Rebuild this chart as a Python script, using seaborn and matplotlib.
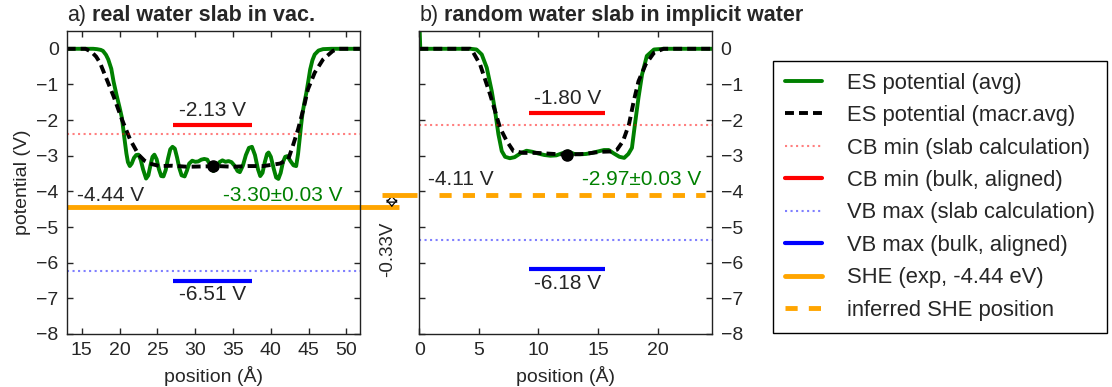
import matplotlib
matplotlib.use("Agg")
import matplotlib.pyplot as plt
from matplotlib.lines import Line2D
from matplotlib.offsetbox import TextArea, HPacker, AnchoredOffsetbox
import seaborn as sns

# ---- panel a: real water slab in vacuum ----
pos_a_avg = [13.0, 16.5, 17.0, 17.5, 17.8, 18.2, 18.5, 18.9, 19.2, 19.6, 20.0, 20.3,
             20.6, 20.9, 21.1, 21.35, 21.6, 21.9, 22.2, 22.5, 22.8, 23.1, 23.5, 23.8,
             24.1, 24.35, 24.6, 24.9, 25.2, 25.5, 25.8, 26.1, 26.4, 26.7, 27.0, 27.3,
             27.6, 27.9, 28.2, 28.6, 28.9, 29.2, 29.6, 30.0, 30.4, 30.8, 31.2, 31.6,
             32.0, 32.4, 32.8, 33.2, 33.6, 34.0, 34.4, 34.8, 35.2, 35.6, 35.9, 36.3,
             36.7, 37.1, 37.5, 37.9, 38.3, 38.6, 38.9, 39.2, 39.5, 39.7, 40.0, 40.4,
             40.7, 41.0, 41.3, 41.6, 41.9, 42.2, 42.6, 43.0, 43.35, 43.6, 43.8, 44.0,
             44.2, 44.45, 44.7, 45.0, 45.2, 45.5, 45.8, 46.3, 46.9, 48.0, 51.8]
pot_a_avg = [0.00, 0.00, -0.01, -0.03, -0.06, -0.17, -0.30, -0.56, -0.92, -1.30, -1.65, -1.93,
             -2.45, -2.94, -3.18, -3.29, -3.22, -3.06, -2.98, -2.97, -3.12, -3.38, -3.64, -3.55,
             -3.25, -3.03, -2.97, -3.10, -3.38, -3.57, -3.58, -3.40, -3.08, -2.82, -2.75, -2.80,
             -3.05, -3.35, -3.55, -3.58, -3.42, -3.22, -3.14, -3.17, -3.16, -3.11, -3.09, -3.11,
             -3.28, -3.43, -3.35, -3.18, -3.13, -3.17, -3.15, -3.18, -3.28, -3.43, -3.46, -3.28,
             -2.98, -2.78, -2.75, -2.98, -3.38, -3.57, -3.48, -3.18, -2.95, -2.91, -3.03, -3.38,
             -3.61, -3.65, -3.48, -3.18, -3.03, -3.01, -3.15, -3.27, -3.29, -2.95, -2.55, -2.15,
             -1.79, -1.50, -1.23, -0.85, -0.58, -0.32, -0.16, -0.05, -0.01, 0.00, 0.00]
pos_a_mac = [13.0, 15.5, 16.3, 16.9, 17.4, 18.3, 19.2, 20.3, 21.4, 22.5, 23.3, 24.0,
             25.3, 27.0, 29.0, 31.0, 33.0, 35.0, 37.0, 39.0, 41.2, 42.3, 42.9, 43.6,
             44.3, 44.9, 45.8, 46.9, 48.2, 49.0, 51.8]
pot_a_mac = [0.00, 0.00, -0.09, -0.22, -0.39, -0.86, -1.33, -1.98, -2.55, -2.97, -3.14, -3.22,
             -3.29, -3.28, -3.31, -3.30, -3.29, -3.31, -3.29, -3.29, -3.22, -3.10, -2.73, -2.26,
             -1.70, -1.14, -0.67, -0.30, -0.06, 0.00, 0.00]
cb_slab_a, cb_bulk_a = -2.40, -2.13
vb_slab_a, vb_bulk_a = -6.24, -6.51
bulk_span_a = [27.1, 37.5]
avg_point_a = (32.4, -3.30)
she_exp = -4.44

# ---- panel b: random water slab in implicit water ----
pos_b_avg = [0.0, 0.08, 4.3, 4.8, 5.24, 5.66, 6.08, 6.36, 6.64, 6.92, 7.2, 7.6,
             8.0, 8.5, 9.0, 9.5, 10.0, 10.5, 11.0, 11.5, 12.0, 12.5, 13.0, 13.5,
             14.0, 14.5, 15.0, 15.5, 15.9, 16.3, 16.8, 17.2, 17.55, 17.85, 18.1, 18.4,
             18.7, 19.1, 19.7, 20.5, 24.6]
pot_b_avg = [0.8, 0.0, 0.0, -0.02, -0.16, -0.53, -1.19, -1.75, -2.40, -2.87, -3.03, -3.07,
             -3.04, -2.93, -2.86, -2.89, -2.94, -2.98, -3.00, -2.99, -2.93, -2.88, -2.95, -2.96,
             -2.95, -2.92, -2.88, -2.84, -2.84, -2.93, -3.03, -3.06, -2.95, -2.78, -2.12, -1.37,
             -0.72, -0.20, -0.02, 0.00, 0.00]
pos_b_mac = [0.0, 4.26, 4.54, 5.1, 5.52, 5.94, 6.36, 6.78, 7.34, 7.9, 8.74, 9.87,
             11.3, 12.4, 13.8, 15.2, 16.1, 16.6, 17.1, 17.6, 18.0, 18.4, 19.0, 19.7,
             20.5, 24.6]
pot_b_mac = [0.00, 0.00, -0.11, -0.44, -0.86, -1.28, -1.75, -2.22, -2.59, -2.87, -2.92, -2.92,
             -2.95, -2.97, -2.95, -2.89, -2.88, -2.83, -2.59, -2.12, -1.47, -0.91, -0.44, -0.11,
             0.00, 0.00]
cb_slab_b, cb_bulk_b = -2.15, -1.80
vb_slab_b, vb_bulk_b = -5.36, -6.18
bulk_span_b = [9.24, 15.6]
avg_point_b = (12.4, -2.97)
she_inferred = -4.11
she_shift = "-0.33V"

sns.set_theme(style="ticks")
plt.rcParams["font.family"] = ["Liberation Sans", "DejaVu Sans"]
plt.rcParams["axes.edgecolor"] = "#222222"
plt.rcParams["axes.linewidth"] = 1.0

fig = plt.figure(figsize=(11.12, 3.87), dpi=100)
ax_a = fig.add_axes([0.0603, 0.137, 0.2635, 0.783])
ax_b = fig.add_axes([0.3771, 0.137, 0.2635, 0.783])

mac_dash = (0, (2.3, 1.3))


def draw_panel(ax, pa, va, pm, vm, cb_s, cb_b, vb_s, vb_b, span, dot):
    sns.lineplot(x=pa, y=va, ax=ax, color="green", lw=2.8, sort=False, estimator=None)
    sns.lineplot(x=pm, y=vm, ax=ax, color="black", lw=2.8, linestyle=mac_dash,
                 sort=False, estimator=None)
    ax.axhline(cb_s, color="red", alpha=0.5, lw=1.5, ls=":")
    ax.axhline(vb_s, color="blue", alpha=0.5, lw=1.5, ls=":")
    ax.plot(span, [cb_b, cb_b], color="red", lw=3, solid_capstyle="butt")
    ax.plot(span, [vb_b, vb_b], color="blue", lw=3, solid_capstyle="butt")
    ax.plot([dot[0]], [dot[1]], "o", color="black", ms=8, zorder=5)
    mid = sum(span) / 2
    ax.text(mid, cb_b + 0.24, f"{cb_b:.2f} V", ha="center", va="baseline", fontsize=15)
    ax.text(mid, vb_b - 0.55, f"{vb_b:.2f} V", ha="center", va="baseline", fontsize=15)
    ax.set_ylim(-8, 0.5)
    ax.set_yticks(range(-8, 1))
    ax.set_xlabel("position (Å)", fontsize=14, labelpad=5)
    ax.tick_params(direction="in", length=4, width=1, top=True, right=True,
                   labelsize=14, pad=6)


draw_panel(ax_a, pos_a_avg, pot_a_avg, pos_a_mac, pot_a_mac, cb_slab_a, cb_bulk_a,
           vb_slab_a, vb_bulk_a, bulk_span_a, avg_point_a)
draw_panel(ax_b, pos_b_avg, pot_b_avg, pos_b_mac, pot_b_mac, cb_slab_b, cb_bulk_b,
           vb_slab_b, vb_bulk_b, bulk_span_b, avg_point_b)

ax_a.set_xlim(13.05, 51.8)
ax_a.set_xticks(range(15, 51, 5))
ax_a.set_ylabel("potential (V)", fontsize=14)
ax_b.set_xlim(0, 24.6)
ax_b.set_xticks(range(0, 21, 5))
ax_b.set_ylabel("")
ax_b.tick_params(labelleft=False, labelright=True)

# SHE levels
ax_a.plot([13.05, 57.0], [she_exp, she_exp], color="orange", lw=3.5,
          solid_capstyle="butt", clip_on=False)
ax_b.plot([-3.13, -0.2], [she_inferred, she_inferred], color="orange", lw=3.5,
          solid_capstyle="butt", clip_on=False)
ax_b.plot([1.65, 24.0], [she_inferred, she_inferred], color="orange", lw=3.5,
          ls=(0, (2.5, 2.3)), solid_capstyle="butt", dash_capstyle="butt")
ax_a.annotate("", xy=(56.0, she_inferred), xytext=(56.0, she_exp),
              arrowprops=dict(arrowstyle="<|-|>,head_length=0.35,head_width=0.3",
                              fc="white", ec="black", lw=0.9,
                              mutation_scale=12, shrinkA=0, shrinkB=0),
              annotation_clip=False, zorder=6)
ax_a.text(55.45, -5.63, she_shift, rotation=90, ha="center", va="center",
          fontsize=13.5, clip_on=False)

ax_a.text(14.4, -4.28, f"{she_exp:.2f} V", ha="left", va="baseline", fontsize=15)
ax_a.text(49.5, -4.28, f"{avg_point_a[1]:.2f}±0.03 V", ha="right", va="baseline",
          fontsize=15, color="green")
ax_b.text(0.76, -3.81, f"{she_inferred:.2f} V", ha="left", va="baseline", fontsize=15)
ax_b.text(23.7, -3.81, f"{avg_point_b[1]:.2f}±0.03 V", ha="right", va="baseline",
          fontsize=15, color="green")


def panel_title(ax, tag, text):
    box = HPacker(children=[TextArea(tag, textprops=dict(fontsize=15.5)),
                            TextArea(text, textprops=dict(fontsize=15.5, weight="bold"))],
                  pad=0, sep=4, align="baseline")
    anc = AnchoredOffsetbox(loc="lower left", child=box, frameon=False, pad=0,
                            borderpad=0, bbox_to_anchor=(0.0, 1.015),
                            bbox_transform=ax.transAxes)
    ax.add_artist(anc)


panel_title(ax_a, "a)", "real water slab in vac.")
panel_title(ax_b, "b)", "random water slab in implicit water")

handles = [
    Line2D([], [], color="green", lw=2.8),
    Line2D([], [], color="black", lw=2.8, ls=mac_dash),
    Line2D([], [], color="red", alpha=0.5, lw=1.5, ls=":"),
    Line2D([], [], color="red", lw=3),
    Line2D([], [], color="blue", alpha=0.5, lw=1.5, ls=":"),
    Line2D([], [], color="blue", lw=3),
    Line2D([], [], color="orange", lw=3.5),
    Line2D([], [], color="orange", lw=3.5, ls=(0, (2.5, 2.3))),
]
labels = ["ES potential (avg)", "ES potential (macr.avg)", "CB min (slab calculation)",
          "CB min (bulk, aligned)", "VB max (slab calculation)", "VB max (bulk, aligned)",
          "SHE (exp, -4.44 eV)", "inferred SHE position"]
leg = fig.legend(handles, labels, loc="upper left", bbox_to_anchor=(0.6949, 0.8432),
                 borderaxespad=0, fontsize=15.8, frameon=True, fancybox=False,
                 edgecolor="black", framealpha=1, handlelength=1.7, handletextpad=1.15,
                 labelspacing=0.52, borderpad=0.55)
leg.get_frame().set_linewidth(1.0)

fig.savefig("out.png", dpi=100)
